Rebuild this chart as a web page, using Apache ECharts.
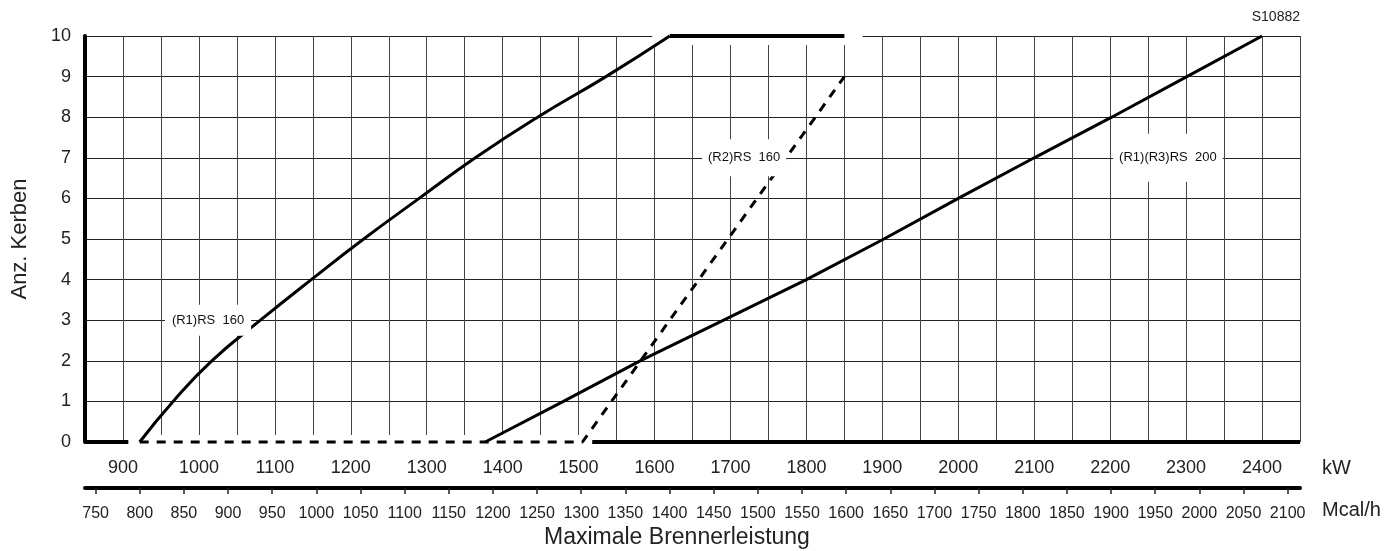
<!DOCTYPE html>
<html>
<head>
<meta charset="utf-8">
<title>Anz. Kerben - Maximale Brennerleistung</title>
<script src="https://cdn.jsdelivr.net/npm/echarts@6.0.0/dist/echarts.min.js"></script>
<style>
    html, body { margin: 0; padding: 0; background: #fff; }
    #chart { width: 1385px; height: 551px; }
</style>
</head>
<body>
<div id="chart"></div>
<script>
// Werte: x = kW, y = Anzahl Kerben
const rs160R1 = [[922, 0], [966, 1], [1017, 2], [1081, 3], [1148, 4], [1217, 5], [1290, 6], [1364, 7], [1446, 8], [1536, 9], [1620, 10]];
const rs160R1Top = [[1620, 10], [1850, 10]];
const rs160R2 = [[922, 0], [1505, 0], [1850, 9]];
const rs200 = [[1377, 0], [1480, 1], [1581, 2], [1691, 3], [1800, 4], [1902, 5], [2000, 6], [2100, 7], [2202, 8], [2301, 9], [2400, 10]];

// dicke Nulllinie, dort unterbrochen wo die gestrichelte Linie liegt
const baseLeft = [[850, 0], [907, 0]];
const baseRight = [[1518, 0], [2450, 0]];
// weisse Freistellung um die Linien
const topGap = [[1597, 10], [1874, 10]];
const bottomGap = [[907, 0], [1518, 0]];

const kwRange = [850, 2450];
const mcalRange = [738, 2114];
const mcalTicks = [750, 800, 850, 900, 950, 1000, 1050, 1100, 1150, 1200, 1250, 1300, 1350, 1400,
    1450, 1500, 1550, 1600, 1650, 1700, 1750, 1800, 1850, 1900, 1950, 2000, 2050, 2100];

const curveNames = ['(R1)RS  160', '(R2)RS  160', '(R1)(R3)RS  200'];
const curveLabelAt = [[1012, 3], [1718, 7], [2276, 7]];

const FONT = "'Liberation Sans', Arial, sans-serif";
const NARROW = "'Liberation Sans Narrow', 'Arial Narrow', 'Liberation Sans', sans-serif";

function lineSeries(data, color, width, type) {
    return {
        type: 'line',
        data: data,
        symbol: 'none',
        showSymbol: false,
        clip: false,
        silent: true,
        xAxisIndex: 0,
        lineStyle: { color: color, width: width, type: type || 'solid', cap: 'butt', opacity: 1 },
    };
}

const labelPadding = [[15, 7, 3, 7], [14, 6, 10, 6], [23, 6, 12, 6]];

let chart = echarts.init(document.getElementById('chart'));
let option = {
    animation: false,
    title: [
        {
            text: 'S10882',
            right: 85,
            top: 10,
            padding: 0,
            textStyle: { fontSize: 14, fontWeight: 'normal', color: '#222', fontFamily: FONT },
        },
        {
            text: 'Maximale Brennerleistung',
            left: 544,
            top: 526,
            padding: 0,
            textStyle: { fontSize: 23, fontWeight: 'normal', color: '#222', fontFamily: FONT },
        },
    ],
    grid: {
        left: 85,
        right: 85,
        top: 36,
        bottom: 109,
        containLabel: false,
        outerBoundsMode: 'none',
    },
    xAxis: [
        {
            type: 'value',
            min: kwRange[0],
            max: kwRange[1],
            interval: 50,
            position: 'bottom',
            axisLine: { show: false },
            axisTick: { show: false },
            axisLabel: {
                fontSize: 18,
                color: '#222',
                fontFamily: FONT,
                margin: 17,
                showMinLabel: true,
                showMaxLabel: true,
                formatter: function(v) {
                    return v % 100 === 0 ? String(v) : '';
                },
            },
            splitLine: { show: true, lineStyle: { color: '#444', width: 1 } },
            name: 'kW',
            nameLocation: 'end',
            nameGap: 22,
            nameMoveOverlap: false,
            nameTextStyle: { fontSize: 20, color: '#222', fontFamily: FONT, verticalAlign: 'top', padding: [16, 0, 0, 0] },
        },
        {
            type: 'value',
            min: mcalRange[0],
            max: mcalRange[1],
            position: 'bottom',
            offset: 46,
            axisLine: { show: true, lineStyle: { color: '#000', width: 4 } },
            axisTick: { show: true, length: 6, customValues: mcalTicks, lineStyle: { color: '#222', width: 1.5 } },
            axisLabel: {
                customValues: mcalTicks,
                fontSize: 16,
                color: '#222',
                fontFamily: NARROW,
                margin: 18,
                formatter: function(v) {
                    return String(v);
                },
            },
            splitLine: { show: false },
            name: 'Mcal/h',
            nameLocation: 'end',
            nameGap: 22,
            nameMoveOverlap: false,
            nameTextStyle: { fontSize: 20, color: '#222', fontFamily: FONT, verticalAlign: 'top', padding: [12, 0, 0, 0] },
        },
    ],
    yAxis: {
        type: 'value',
        min: 0,
        max: 10,
        interval: 1,
        name: 'Anz. Kerben',
        nameLocation: 'middle',
        nameRotate: 90,
        nameGap: 54,
        nameMoveOverlap: false,
        nameTextStyle: { fontSize: 22, color: '#222', fontFamily: FONT },
        axisLine: { show: true, lineStyle: { color: '#000', width: 4 } },
        axisTick: { show: false },
        axisLabel: { fontSize: 18, color: '#222', fontFamily: FONT, margin: 14 },
        splitLine: { show: true, lineStyle: { color: '#222', width: 1 } },
    },
    series: [
        lineSeries(topGap, '#fff', 18),
        lineSeries(bottomGap, '#fff', 14),
        lineSeries(baseLeft, '#000', 4),
        lineSeries(baseRight, '#000', 4),
        lineSeries(rs160R2, '#000', 3, [9, 8]),
        Object.assign(lineSeries(rs160R1, '#000', 3), { smooth: 0.5 }),
        lineSeries(rs160R1Top, '#000', 4),
        lineSeries(rs200, '#000', 3),
        {
            type: 'scatter',
            symbolSize: 0,
            silent: true,
            itemStyle: { opacity: 1 },
            data: curveLabelAt.map(function(p, i) {
                return { value: p, label: { padding: labelPadding[i] } };
            }),
            label: {
                show: true,
                position: 'inside',
                backgroundColor: '#fff',
                color: '#111',
                opacity: 1,
                fontSize: 13,
                fontFamily: FONT,
                formatter: function(p) {
                    return curveNames[p.dataIndex];
                },
            },
            z: 5,
        },
    ],
};
chart.setOption(option);
</script>
</body>
</html>
